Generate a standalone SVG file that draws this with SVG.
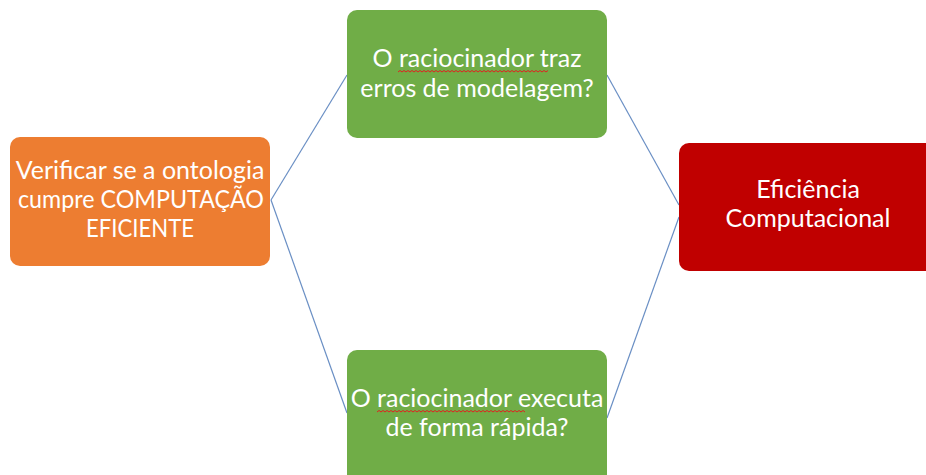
<svg xmlns="http://www.w3.org/2000/svg" width="926" height="475" viewBox="0 0 926 475">
<style>
.t{font-family:Lato,"Open Sans","Liberation Sans",sans-serif;font-size:25px;fill:#fff;text-anchor:middle}
.c{stroke:#6a8fc4;stroke-width:1.2;fill:none}
.w{stroke:#e02020;stroke-width:1;fill:none}
</style>
<rect width="926" height="475" fill="#fff"/>
<g id="connectors">
<line class="c" x1="271" y1="200" x2="347" y2="75"/>
<line class="c" x1="271" y1="200" x2="347" y2="413"/>
<line class="c" x1="607" y1="75" x2="679" y2="205"/>
<line class="c" x1="607" y1="418" x2="679" y2="217"/>
</g>
<g id="n1">
<rect x="10" y="137" width="260" height="129" rx="10" fill="#ed7d31"/>
<text class="t" x="140" y="179">Verificar se a ontologia</text>
<text class="t" x="141" y="208" textLength="246" lengthAdjust="spacingAndGlyphs">cumpre COMPUTAÇÃO</text>
<text class="t" x="140" y="237" textLength="108" lengthAdjust="spacingAndGlyphs">EFICIENTE</text>
</g>
<g id="n2">
<rect x="347" y="10" width="260" height="128" rx="10" fill="#70ad47"/>
<text class="t" x="477" y="67">O raciocinador traz</text>
<text class="t" x="477" y="97">erros de modelagem?</text>
<path class="w" d="M398 72 l2 -1.5 l2 1.5 l2 -1.5 l2 1.5 l2 -1.5 l2 1.5 l2 -1.5 l2 1.5 l2 -1.5 l2 1.5 l2 -1.5 l2 1.5 l2 -1.5 l2 1.5 l2 -1.5 l2 1.5 l2 -1.5 l2 1.5 l2 -1.5 l2 1.5 l2 -1.5 l2 1.5 l2 -1.5 l2 1.5 l2 -1.5 l2 1.5 l2 -1.5 l2 1.5 l2 -1.5 l2 1.5 l2 -1.5 l2 1.5 l2 -1.5 l2 1.5 l2 -1.5 l2 1.5 l2 -1.5 l2 1.5 l2 -1.5 l2 1.5 l2 -1.5 l2 1.5 l2 -1.5 l2 1.5 l2 -1.5 l2 1.5 l2 -1.5 l2 1.5 l2 -1.5 l2 1.5 l2 -1.5 l2 1.5 l2 -1.5 l2 1.5 l2 -1.5 l2 1.5 l2 -1.5 l2 1.5 l2 -1.5 l2 1.5 l2 -1.5 l2 1.5 l2 -1.5 l2 1.5 l2 -1.5 l2 1.5 l2 -1.5 l2 1.5 l2 -1.5 l2 1.5 l2 -1.5 l2 1.5 l2 -1.5 l2 1.5 l2 -1.5"/>
</g>
<g id="n3">
<rect x="347" y="350" width="260" height="135" rx="10" fill="#70ad47"/>
<text class="t" x="477" y="407">O raciocinador executa</text>
<text class="t" x="477" y="436">de forma rápida?</text>
<path class="w" d="M377 412 l2 -1.5 l2 1.5 l2 -1.5 l2 1.5 l2 -1.5 l2 1.5 l2 -1.5 l2 1.5 l2 -1.5 l2 1.5 l2 -1.5 l2 1.5 l2 -1.5 l2 1.5 l2 -1.5 l2 1.5 l2 -1.5 l2 1.5 l2 -1.5 l2 1.5 l2 -1.5 l2 1.5 l2 -1.5 l2 1.5 l2 -1.5 l2 1.5 l2 -1.5 l2 1.5 l2 -1.5 l2 1.5 l2 -1.5 l2 1.5 l2 -1.5 l2 1.5 l2 -1.5 l2 1.5 l2 -1.5 l2 1.5 l2 -1.5 l2 1.5 l2 -1.5 l2 1.5 l2 -1.5 l2 1.5 l2 -1.5 l2 1.5 l2 -1.5 l2 1.5 l2 -1.5 l2 1.5 l2 -1.5 l2 1.5 l2 -1.5 l2 1.5 l2 -1.5 l2 1.5 l2 -1.5 l2 1.5 l2 -1.5 l2 1.5 l2 -1.5 l2 1.5 l2 -1.5 l2 1.5 l2 -1.5 l2 1.5 l2 -1.5 l2 1.5 l2 -1.5 l2 1.5 l2 -1.5 l2 1.5 l2 -1.5 l2 1.5"/>
</g>
<g id="n4">
<rect x="679" y="143" width="260" height="128" rx="10" fill="#c00000"/>
<text class="t" x="808" y="198">Eficiência</text>
<text class="t" x="808" y="227">Computacional</text>
</g>
</svg>
